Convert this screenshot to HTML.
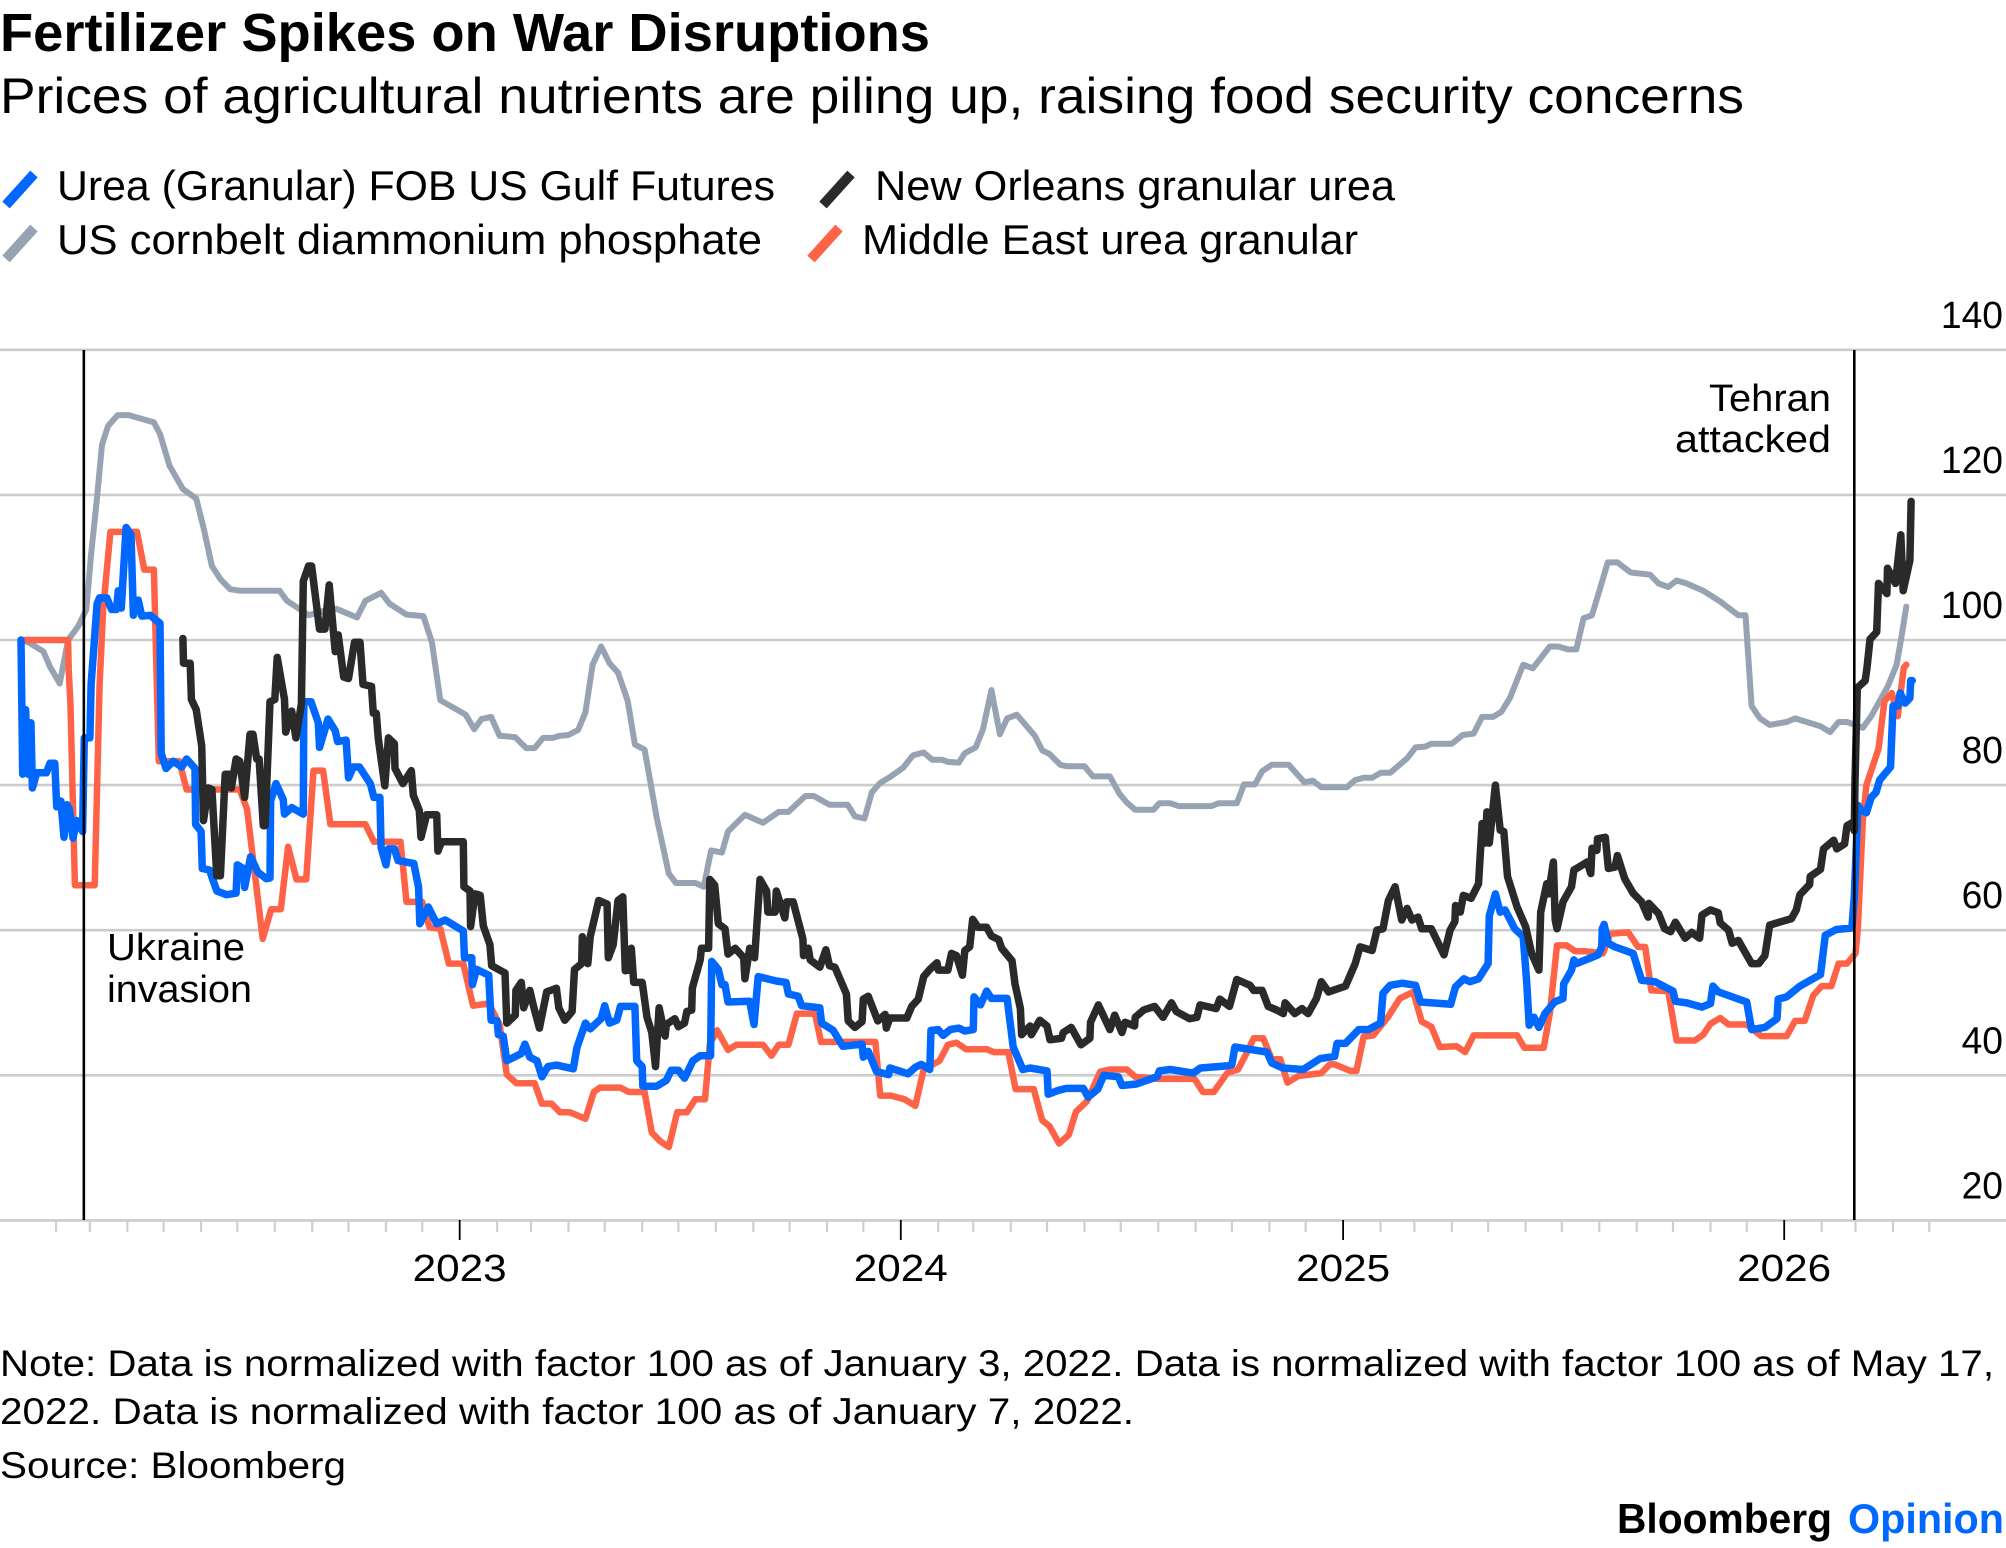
<!DOCTYPE html>
<html lang="en">
<head>
<meta charset="utf-8">
<title>Fertilizer Spikes on War Disruptions</title>
<style>
html,body{margin:0;padding:0;background:#fff;}
svg{display:block;}
text{font-family:"Liberation Sans",Arial,sans-serif;fill:#000;}
</style>
</head>
<body>
<svg id="chart" xmlns="http://www.w3.org/2000/svg" width="2006" height="1548" viewBox="0 0 2006 1548">
  <rect x="0" y="0" width="2006" height="1548" fill="#fff"/>
  <text x="0" y="51" font-size="54" font-weight="700" textLength="930" lengthAdjust="spacingAndGlyphs">Fertilizer Spikes on War Disruptions</text>
  <text x="0" y="113" font-size="50" textLength="1744" lengthAdjust="spacingAndGlyphs">Prices of agricultural nutrients are piling up, raising food security concerns</text>

  <line x1="6" y1="205" x2="34" y2="174" stroke="#0068ff" stroke-width="10"/>
  <text x="57" y="200" font-size="42" textLength="718" lengthAdjust="spacingAndGlyphs">Urea (Granular) FOB US Gulf Futures</text>
  <line x1="823" y1="205" x2="851" y2="174" stroke="#2a2a2a" stroke-width="10"/>
  <text x="875" y="200" font-size="42" textLength="520" lengthAdjust="spacingAndGlyphs">New Orleans granular urea</text>
  <line x1="6" y1="259" x2="34" y2="228" stroke="#97a3b3" stroke-width="10"/>
  <text x="57" y="254" font-size="42" textLength="705" lengthAdjust="spacingAndGlyphs">US cornbelt diammonium phosphate</text>
  <line x1="811" y1="259" x2="839" y2="228" stroke="#ff6347" stroke-width="10"/>
  <text x="862" y="254" font-size="42" textLength="496" lengthAdjust="spacingAndGlyphs">Middle East urea granular</text>

  <g id="grid"></g>
  <g id="xaxis"></g>
  <g id="yaxis"></g>
  <g id="series"></g>
  <g id="events"></g>

  <text x="1831" y="411" font-size="38" text-anchor="end" textLength="122" lengthAdjust="spacingAndGlyphs">Tehran</text>
  <text x="1831" y="452" font-size="38" text-anchor="end" textLength="156" lengthAdjust="spacingAndGlyphs">attacked</text>
  <text x="107" y="960" font-size="38" textLength="138" lengthAdjust="spacingAndGlyphs">Ukraine</text>
  <text x="107" y="1002" font-size="38" textLength="145" lengthAdjust="spacingAndGlyphs">invasion</text>

  <text x="0" y="1376" font-size="37" textLength="1994" lengthAdjust="spacingAndGlyphs">Note: Data is normalized with factor 100 as of January 3, 2022. Data is normalized with factor 100 as of May 17,</text>
  <text x="0" y="1424" font-size="37" textLength="1134" lengthAdjust="spacingAndGlyphs">2022. Data is normalized with factor 100 as of January 7, 2022.</text>
  <text x="0" y="1478" font-size="37" textLength="346" lengthAdjust="spacingAndGlyphs">Source: Bloomberg</text>
  <text x="1617" y="1533" font-size="42" font-weight="700" textLength="215" lengthAdjust="spacingAndGlyphs">Bloomberg</text>
  <text x="1848" y="1533" font-size="42" font-weight="700" textLength="156" lengthAdjust="spacingAndGlyphs" style="fill:#0068ff">Opinion</text>
</svg>
<script>
// Chart data: days since January 3, 2022 and index values
const yTicks = [140, 120, 100, 80, 60, 40, 20];
const yearTicks = [2023, 2024, 2025, 2026];
const eventDates = ['2022-02-24', '2026-02-28'];

const grayDays = [
0,6,18.5,24,32,39,47,54,58,63,
67,72,80,89,110,115,123,134,145,151,
158,165,173,181,214,220,231,238,250,261,
278,285,298,305,319,333,340,347,368,375,
381,389,396,409,418,425,432,440,446,453,
461,467,473,480,487,494,502,508,516,526,
536,542,558,565,571,580,585,599,614,627,
635,649,656,669,684,690,698,704,711,719,
730,738,747,754,762,767,776,781,790,796,
803,810,816,824,839,845,851,860,865,880,
887,901,909,915,922,937,942,951,958,985,
991,1006,1012,1021,1027,1035,1049,1062,1069,1076,
1097,1104,1111,1118,1125,1133,1147,1154,1162,1167,
1184,1193,1202,1209,1218,1225,1232,1243,1251,1265,
1272,1280,1287,1293,1300,1313,1321,1332,1348,1355,
1363,1370,1378,1392,1406,1421,1427,1432,1439,1447,
1461,1468,1489,1497,1504,1511,1524,1531,1538,1545,
1552,1556,1560];
const grayValues = [
100,99.7,98.4,96.3,94,100,101.8,104.2,111.8,119.7,
126.9,129.5,131,131,130,128.4,124,120.8,119.5,115.5,
110.2,108.4,107,106.8,106.8,105.4,104.2,103.4,104,104.3,
103.1,105.4,106.5,105,103.5,103.3,99.7,91.7,89.7,87.7,
89.1,89.4,86.8,86.6,85.1,85.1,86.5,86.5,86.8,86.9,
87.6,90,96.6,99.1,96.8,95.5,91.6,85.6,84.9,75.5,
67.8,66.5,66.5,66,71,70.7,73.6,75.9,74.8,76.3,
76.3,78.5,78.5,77.3,77.3,75.7,75.4,79,80.3,81.1,
82.4,84.1,84.5,83.5,83.5,83.2,83.1,84.4,85.2,87.7,
93.1,87,89.2,89.7,86.8,84.8,84.3,82.8,82.6,82.6,
81.2,81.2,78.8,77.6,76.6,76.6,77.5,77.5,77.1,77.1,
77.5,77.5,80.1,80.1,81.9,82.8,82.8,80.4,80.6,79.7,
79.7,80.7,81,81,81.7,81.7,83.7,85.2,85.3,85.7,
85.7,86.9,87.1,89.4,89.4,90.1,92,96.6,96.1,99.1,
99.1,98.7,98.7,103,103.4,110.7,110.7,109.3,109,107.8,
107.3,108.2,107.8,106.8,105.3,103.4,103.4,90.9,89.2,88.3,
88.7,89.2,88.1,87.3,88.7,88.7,87.9,89.5,91.6,93.7,
96.6,100.4,104.6];

const redDays = [
0,39,39.5,41,44.6,61,65,68,74,96,
102,110,114,131,137,181,187,200,207,215,
221,228,236,242,250,256,285,292,314,319,
332,338,347,354,366,374,387,396,402,410,
425,431,439,446,454,467,474,479,496,503,
516,522,529,536,543,551,558,566,570,576,
585,592,614,621,627,635,642,657,662,707,
711,720,731,740,747,760,767,774,782,799,
805,817,823,838,845,851,859,867,873,882,
893,901,915,922,941,971,978,987,998,1007,
1014,1020,1028,1035,1042,1048,1057,1076,1083,1087,
1100,1105,1111,1119,1131,1141,1152,1159,1167,1174,
1188,1195,1202,1238,1244,1260,1265,1271,1279,1286,
1294,1309,1315,1330,1338,1344,1349,1363,1370,1385,
1392,1398,1406,1413,1428,1440,1461,1468,1476,1483,
1490,1498,1504,1511,1518,1520,1524,1527,1537,1542,
1548,1553,1558,1560];
const redValues = [
100,100,96,91,66.2,66.2,93.9,104.4,114.9,114.9,
109.7,109.7,83.3,83.3,79.4,79.4,76.7,58.8,62.9,62.9,
71.5,67,67,82,82,74.6,74.6,72.2,72.2,63.9,
63.9,60.4,60.2,55.4,55.4,49.6,49.9,47,40.1,38.9,
38.9,36.1,36.1,34.9,34.9,34,37.7,38.3,38.3,37.7,
37.7,32.1,30.9,30.1,34.9,34.9,36.7,36.7,44.3,46.2,
43.5,44.2,44.2,42.7,44.2,44.2,48.5,48.5,44.6,44.6,
37.2,37.2,36.7,35.8,40.8,42,44.2,44.5,43.6,43.6,
43.2,43.2,38.1,38.1,33.8,33,30.6,31.8,35,36.4,
40.5,40.8,40.8,39.8,39.5,39.5,37.7,37.7,40.3,40.8,
43,45.1,45.1,42.2,42.2,39,39.9,40.3,41.5,41.5,
40.6,40.6,45.3,45.5,48,50.6,51.5,47.4,46.7,43.9,
44,43.2,45.5,45.5,43.8,43.8,48.5,57.9,57.9,57.1,
57.1,56.8,59.5,59.7,57.7,57.7,51.7,51.6,44.8,44.8,
45.6,47.1,47.9,47,47,45.4,45.4,47.5,47.5,51,
52.3,52.3,55.4,55.4,56.8,60.3,75.1,80,85,91.6,
92.7,89.5,96.2,96.6];

const blueDays = [
0,1.4,3.8,6,8.2,9.4,13,17,21,24,
28,29.5,33,35.6,38,40,43,46,51,52.4,
57,58,63,65,71,75,79,80.5,83,87,
91,93,97,100,107,115,116,120,126,133,
137,144,144.5,149,150,156,162,170,178,179,
184,185,190,196,203,206,206.5,211,217,218,
224,233.6,234,240,246,247,254,260,262,269,
271,275,280,289,292,297,298,302,304,309,
312,325,329,330,337,344,351,366,367,373,
373.5,377,387,389,394,395,399,402,414,417,
421,427,431,436,443,457,460,467,471,480,
483,487,493,496,508,509.5,514,514.5,526,534,
538,544,549,556,562,570.6,571.5,577,580,582.5,
585,603,606.5,610,625,633,635,643,646,661,
662.5,672,680,696,697,701,708,718,719,734,
740,745,752,753,759,763,769,776,781,788,
788.6,794,799,803,816,821,829,835,849,850,
858,865,879,883,891,896,908,911,923,940,
942,951,970,976,998,1002,1004.5,1031,1035,1044,
1061,1075,1087,1089,1096,1107,1115,1125,1127,1133,
1143,1154,1158,1183,1187,1194,1199,1206,1214,1215,
1220,1224,1228,1236,1243,1246,1248,1252,1256,1261,
1269,1276,1276.5,1283,1285,1287,1305,1308,1308.5,1310,
1313.5,1319,1334,1341,1352,1367,1369,1378,1391,1398,
1400,1404.5,1428,1432,1443,1453,1454,1461,1472,1489,
1493,1502,1515,1517,1520,1523,1527,1531,1535,1538,
1547,1549,1553,1555,1559,1563,1563.7,1565];
const blueValues = [
100,81.5,90.4,81.5,88.6,79.6,81.7,81.7,81.7,83,
83,77,77.8,72.8,77.3,76.7,72.7,75.1,73.6,86.5,
86.5,93.9,105,105.8,105.8,104.2,104.2,106.8,104.4,115.5,
114.5,103.4,105.5,103.3,103.4,102.3,84.4,82.3,83.3,82.5,
83.6,82.3,74.6,73.6,68.5,68.3,65.4,64.9,65.1,69,
68.5,65.9,70.1,68,67.1,67.2,77.8,80.2,78,76,
76.9,76,91.5,91.5,88.6,85.2,89.1,87.5,86,86.2,
81,82.5,82.5,80.2,78.3,78.3,71.4,69,71.2,71.2,
69.6,69.2,65.9,60.9,63.2,60.9,61.4,59.9,56.2,56.2,
52.5,54.6,53.8,47.6,47.5,45.6,45.4,42,43,44.3,
42.5,42,39.8,41.2,41.4,40.9,43.8,47.2,46.4,47.8,
49.6,47.2,47.6,49.5,49.5,42,41.2,38.5,38.5,39.3,
40.7,40.7,39.6,42,42.7,42.7,55.7,54.6,52.5,52.5,
50.1,50.2,47,53.6,53,52.8,51.2,50.9,49.6,49.3,
47.2,46.2,44,44.3,42.5,43.3,40.5,40.1,41,40.2,
41.1,41.5,40.8,46.2,46.3,45.5,46.3,46.5,46.1,46.3,
50.8,49.7,51.6,50.6,50.6,43.9,40.8,41,40.6,37.4,
37.9,38.2,38.2,37,38.1,40,39.8,38.6,38.8,39.8,
40.6,40.8,40.3,41,41.3,41.5,43.9,43.2,41.7,41,
40.8,42.3,42.6,44.4,44.4,46.3,46.3,47.2,51.3,52.4,
52.7,52.4,50.1,49.8,52.2,53.3,52.9,53.3,55.4,62,
65,62.5,62.8,60.2,59.1,52.6,46.9,48,46.6,48.5,
50.1,50.6,52.6,54.5,55.9,55.4,56.6,57.7,60.2,60.8,
58.2,57.7,56.8,53.1,52.9,51.6,50.2,50,49.4,49.9,
52.3,51.5,50.1,46.3,46.6,47.8,50.5,50.8,52.3,53.9,
59.3,60.1,60.3,64.6,77.2,76.5,76.2,78.3,79,80.7,
82.5,90.9,90.9,92.7,91.3,92,94.4,94.4];

const blackDays = [
134,134.5,140,141,145,149.5,151,155,158,162,
165,169,173,174,178,181,185,189.5,192,195,
197,200.5,202,206,210,212,218,219,224,227.5,
232,233.6,238,240.5,247,251.5,255,260,262.5,267,
271,276,280.5,283,290,291.5,294,295.6,301,304,
309,309.5,316,323,324.6,329.6,331,335.6,344,345,
348,366,366.5,371.5,372,375.7,380,382.5,388,389.5,
400.5,402,409,409.5,414,416,421,424,429,435,
443,445,450,456,458,464,464.5,469,471,478,
485,486,490,494,498,500,504,505,507,514,
518,522,525,528,533,534,541,544,549,551,
555,555.5,562,563,569,570,574,577,582.5,585,
591,598,599,603,607,611.5,617,618,624,625,
632,633.5,639,647,647.5,651.5,653,661,666,669,
673.5,683,684.5,690,696,697,701,709,715,716,
719,733,737,742.5,747,752,758,759,767,770,
774,779,781,785,787.5,792,799,803,809,811.5,
820,822.5,827,828,835,836,843,849,851.5,861,
862.5,869,877,884.5,885,891.5,901,905,911,913.5,
921.5,922,929,938,945,952,956,967,973,975.6,
989,992,1000,1006,1017,1020,1027,1032,1039,1044.5,
1046,1054,1060,1065,1072,1076,1082,1096,1104,1108,
1118,1122,1127,1131.5,1137,1142.5,1147,1151,1156,1159,
1167,1177.5,1182.5,1186.5,1187,1191,1193.5,1200,1206,1209,
1211.5,1213,1215,1220,1224,1227,1230,1238,1245,1250,
1256,1257.5,1262.5,1264,1268,1269.5,1271,1276,1283,1285,
1289,1296,1299,1300,1304,1304.5,1311,1313.5,1319,1321,
1327,1334,1341,1346.5,1347,1355,1360,1365,1369,1377,
1382.5,1389,1391,1398,1404.5,1406,1413,1416,1421,1432,
1438,1443,1447,1465,1469,1472,1480,1480.5,1489,1491.5,
1500,1502.5,1509,1511,1515,1517,1517.5,1519.5,1526,1527.5,
1530,1535.5,1537,1544,1544.5,1551,1555.5,1557.5,1563,1564];
const blackValues = [
100.2,96.8,96.8,91.8,90.4,85.4,75.1,79.6,79.4,67.5,
67.5,81.5,81.5,79.6,83.6,83.3,78.3,87,87,83.6,
83.6,74.4,74.4,91.5,91.8,97.6,91.8,87.3,90.2,86.5,
91.2,108.1,110.2,110.2,101.5,101.5,107.6,98.4,100.7,94.9,
94.7,99.7,99.7,93.9,93.6,89.9,89.9,86.5,79.9,86.5,
85.7,82.3,80.2,82,78.6,76.5,72.8,75.9,75.9,70.9,
72.2,72.2,66,65.4,60.5,65,64.8,60.6,58,55.1,
54.1,47.2,48.3,51.7,52.8,49.3,51.7,49.6,46.5,51.5,
52,49.3,47.6,48.8,54.6,55.4,59.1,55.4,59.1,64.1,
63.6,56.2,58,64.1,64.6,54.4,54.6,57.5,52.8,52.8,
48,45.9,41.2,49.3,45.4,47,47.8,46.7,47.2,48.8,
49,52,55.9,57.5,57.5,67,66.2,60.9,60.2,56.7,
57.5,56.2,53.3,57.5,56.2,67,65.4,62.5,62.5,65.4,
61.7,63.9,63.9,58.8,56.5,57.5,55.9,54.9,57.3,55.1,
54.9,51.2,47.5,46.6,47.4,50.5,50.9,47.5,48.4,46.5,
47.9,47.9,49.5,50.5,53.6,54.6,55.5,54.5,54.5,56.8,
56.5,53.8,57.2,57.7,61.5,60.4,60.4,59.2,58.7,57.5,
55.8,52.6,49.2,45.6,46.8,45.6,47.6,46.8,44.9,45.1,
45.9,46.6,44.2,45.1,47.3,49.7,46.3,48.3,45.9,47.3,
46.8,48,49,49.5,48,50,48.8,47.8,48,49.7,
49.2,50.5,49.5,53.2,52.4,51.7,51.7,49.5,49,48.5,
50,48.5,49.2,48.5,50.6,52.9,51.5,52.3,55.4,57.7,
57.2,60,60.2,64.1,66,61.4,63,61.4,61.8,60.2,
60.2,56.6,60,61.2,63.4,62.5,64.8,64.4,66.4,74.7,
72,76.3,72,80,73.8,73.6,67.4,63.2,60.5,56.8,
54.5,62.5,66.4,65,69.4,61.4,60.2,63.9,66,68.3,
68.7,69.4,67.8,71.3,71,72.6,72.8,68.5,68.7,70.3,
67.1,65.1,63.9,61.8,63.7,62.3,60.2,59.8,61.1,58.9,
59.7,58.9,62.1,62.8,62.4,61,60,58.2,58.6,55.4,
55.4,56.5,60.7,61.6,62.8,64.9,66.3,67.4,68.4,71.2,
72.4,71.2,71.9,74.4,74.8,73.7,80,93.4,94.4,96.2,
100.1,101.1,107.8,106.4,109.9,107.8,114.5,106.8,111,119.1];

// Axis functions
const SVGNS = 'http://www.w3.org/2000/svg';
const START_MS = Date.UTC(2022, 0, 3);
function xScale(day) { return 21 + day * 1.2085; }
function yScale(value) { return 640 + (100 - value) * 7.255; }
function dayOf(ms) { return (ms - START_MS) / 86400000; }
function make(parent, tag, attrs, txt) {
  const node = document.createElementNS(SVGNS, tag);
  for (const k in attrs) node.setAttribute(k, attrs[k]);
  if (txt !== undefined) node.textContent = txt;
  parent.appendChild(node);
  return node;
}

const gridG = document.getElementById('grid');
const xG = document.getElementById('xaxis');
const yG = document.getElementById('yaxis');
const seriesG = document.getElementById('series');
const eventsG = document.getElementById('events');

// Horizontal gridlines and y labels
yTicks.forEach(function (t) {
  const gl = make(gridG, 'line', { x1: 0, x2: 2006, y1: yScale(t), y2: yScale(t), stroke: '#cccccc', 'stroke-width': 2.6 });
  
  
  const lb = make(yG, 'text', { x: 2003, y: yScale(t) - 22, 'font-size': 38, 'text-anchor': 'end', textLength: String(t).length * 20.7, lengthAdjust: 'spacingAndGlyphs' }, String(t));
  
  
});

// Monthly minor ticks from February 2022 through May 2026
for (let m = 1; m <= 52; m++) {
  if (m % 12 === 0) continue;
  const px = xScale(dayOf(Date.UTC(2022, m, 1)));
  const tk = make(xG, 'line', { x1: px, x2: px, y1: 1220, y2: 1232, stroke: '#cfcfcf', 'stroke-width': 2.2 });
  
  
}

// Year ticks and labels
yearTicks.forEach(function (yr) {
  const px = xScale(dayOf(Date.UTC(yr, 0, 1)));
  const tk = make(xG, 'line', { x1: px, x2: px, y1: 1220, y2: 1240, stroke: '#000', 'stroke-width': 1.8 });
  
  
  const lb = make(xG, 'text', { x: px, y: 1281, 'font-size': 38, 'text-anchor': 'middle', textLength: 94, lengthAdjust: 'spacingAndGlyphs' }, String(yr));
  
  
});

// Series lines
function drawLine(days, values, color, width, name) {
  const pts = days.map(function (d, i) { return xScale(d).toFixed(1) + ',' + yScale(values[i]).toFixed(1); }).join(' ');
  const line = make(seriesG, 'polyline', { points: pts, fill: 'none', stroke: color, 'stroke-width': width, 'stroke-linejoin': 'round', 'stroke-linecap': 'round' });
  
  
}
drawLine(grayDays, grayValues, '#97a3b3', 6, 'line-us-cornbelt-dap');
drawLine(redDays, redValues, '#ff6347', 6.5, 'line-middle-east-urea');
drawLine(blueDays, blueValues, '#0068ff', 7.5, 'line-urea-futures');
drawLine(blackDays, blackValues, '#2a2a2a', 7.5, 'line-new-orleans-urea');

// Event marker lines
eventDates.forEach(function (d, i) {
  const px = xScale(dayOf(Date.parse(d + 'T00:00:00Z')));
  const ev = make(eventsG, 'line', { x1: px, x2: px, y1: 350, y2: 1220, stroke: '#000', 'stroke-width': 2.6 });
  
  
});
</script>
</body>
</html>
